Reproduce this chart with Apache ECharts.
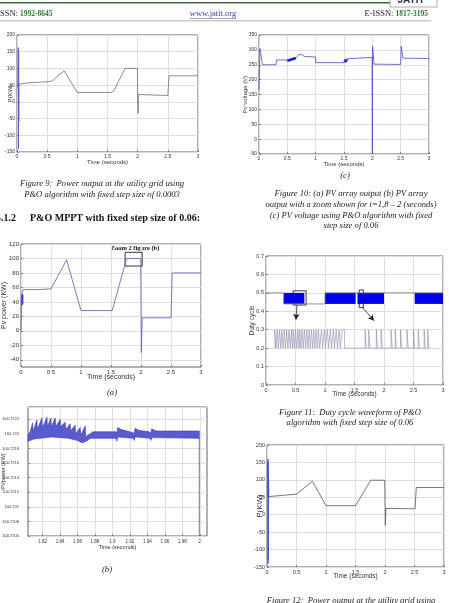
<!DOCTYPE html>
<html>
<head>
<meta charset="utf-8">
<title>ECharts</title>
<script src="https://cdn.jsdelivr.net/npm/echarts@6/dist/echarts.min.js"></script>
<style>html,body{margin:0;padding:0;background:#fff}#main{width:449px;height:603px}</style>
</head>
<body>
<div id="main"></div>
<script>
// tick values (custom ones only where min is not a multiple of the step)
var ticksA = [-40, -20, 0, 20, 40, 60, 80, 100, 120];
var ticksBx = [1.82, 1.84, 1.86, 1.88, 1.9, 1.92, 1.94, 1.96, 1.98, 2];

// Figure 9 : grid power, step 0.0003
var fig9Line = [[0.03,53],[0.06,56],[0.2,57],[0.5,60],[0.58,62],[0.78,93],[1.0,28],[1.55,28],[1.6,31],[1.79,100],[1.995,100],[2.005,-35],[2.015,22],[2.04,19],[2.5,19],[2.52,78],[3,78]];
var fig9Spike = [[0.018,40],[0.021,162],[0.024,-140],[0.027,150],[0.029,-60],[0.031,53]];

// Figure 10 (c) : PV voltage
var fig10Line = [[0,165],[0.015,305],[0.03,290],[0.06,250],[0.3,250],[0.31,266],[0.5,266],[0.66,274],[0.7,284],[0.76,284],[0.8,278],[0.82,276],[1.0,276],[1.0,257],[1.5,257],[1.56,270],[1.995,275],[2.0,-50],[2.004,312],[2.03,252],[2.5,251],[2.51,312],[2.54,272],[3,271]];
var fig10Thick = [[0.5,263],[0.65,273]];
var fig10Ripple = [[1.5,258],[1.51,268],[1.52,258],[1.53,268],[1.54,258],[1.55,270],[1.56,262]];

// Figure 10 (a) : PV power
var figALine = [[0,0],[0.01,0],[0.012,50],[0.036,57],[0.3,57],[0.5,58],[0.76,98],[1.0,28],[1.52,28],[1.76,100],[1.995,100],[2.005,-30],[2.02,18],[2.5,18],[2.52,80],[3,80]];
var figASpike = [[0.014,48],[0.017,36],[0.020,50],[0.023,36],[0.026,50],[0.029,37],[0.033,50]];
var figABox = [[1.735,108.5],[2.02,89.5]];

// Figure 10 (b) : zoom, upper / lower edge of the ripple band
var figBUpper = [[1.8033,100.72198],[1.806,100.72204],[1.8086,100.72215],[1.809,100.72203],[1.8135,100.72219],[1.814,100.72206],[1.8192,100.72222],[1.8197,100.72208],[1.825,100.72223],[1.8255,100.7221],[1.8295,100.72222],[1.83,100.7221],[1.8345,100.72222],[1.835,100.7221],[1.8402,100.7222],[1.8407,100.7221],[1.8459,100.72216],[1.8464,100.72206],[1.8516,100.72214],[1.8521,100.72204],[1.8573,100.72212],[1.8578,100.722],[1.8631,100.72209],[1.8636,100.72198],[1.8688,100.72211],[1.8693,100.72196],[1.874,100.722],[1.878,100.72203],[1.904,100.72203],[1.905,100.72201],[1.906,100.72209],[1.91,100.72206],[1.92,100.72203],[1.925,100.72201],[1.926,100.72208],[1.93,100.72205],[1.942,100.72203],[1.944,100.72201],[1.945,100.72207],[1.95,100.72204],[1.9995,100.72204]];
var figBLower = [[1.8033,100.7219],[1.81,100.72193],[1.83,100.72196],[1.85,100.72194],[1.86,100.72191],[1.865,100.72188],[1.87,100.7219],[1.875,100.72194],[1.904,100.72194],[1.905,100.7219],[1.906,100.72196],[1.924,100.72194],[1.925,100.72191],[1.926,100.72196],[1.943,100.72194],[1.944,100.72191],[1.945,100.72195],[1.9995,100.72194]];
var figBDrop = [[1.9995,100.72195],[1.9995,100.7206]];

// Figure 11 : duty cycle
var fig11Line = [[0,0.5],[0.3,0.5],[0.3,0.44],[0.65,0.44],[1.0,0.44],[1.0,0.5],[3,0.5]];
var fig11Bands = [[0.3,0.65,0.44,0.5],[1.0,1.52,0.44,0.5],[1.55,2.0,0.44,0.5],[2.52,3.0,0.44,0.5]];
var fig11Pulses = [[0.15,0.17],[0.19,0.21],[0.23,0.25],[0.27,0.29],[0.31,0.33],[0.35,0.37],[0.39,0.41],[0.43,0.45],[0.46,0.48],[0.5,0.52],[0.54,0.56],[0.57,0.59],[0.61,0.63],[0.65,0.67],[0.69,0.71],[0.73,0.75],[0.77,0.79],[0.81,0.83],[0.85,0.87],[0.89,0.91],[0.94,0.96],[0.99,1.01],[1.04,1.06],[1.09,1.11],[1.14,1.16],[1.19,1.21],[1.24,1.26],[1.29,1.33],
  [1.68,1.7],[1.74,1.76],[1.87,1.89],[1.95,1.97],[2.12,2.14],[2.19,2.21],[2.28,2.3],[2.39,2.41],[2.5,2.52],[2.58,2.6],[2.68,2.7],[2.74,2.76]];
var fig11Boxes = [[[0.46,0.511],[0.68,0.434]],[[1.58,0.516],[1.65,0.42]]];
var fig11Arrows = [[[0.525,0.435],[0.508,0.354]],[[1.627,0.424],[1.83,0.349]]];

// Figure 12 : grid power, step 0.06
var fig12Line = [[0.03,52],[0.06,56],[0.5,59],[0.77,96],[1.0,26],[1.5,26],[1.76,99],[1.995,99],[2.005,-30],[2.015,18],[2.03,17],[2.51,17],[2.53,78],[3,78]];
var fig12Spike = [[0.012,50],[0.015,160],[0.018,-140],[0.021,150],[0.024,-130],[0.027,100],[0.03,52]];

var myChart = echarts.init(document.getElementById('main'));

function grid(l, t, w, h) {
    return {left: l, top: t, width: w, height: h, show: true, borderColor: '#3a3a3a', borderWidth: 0.8,
        containLabel: false, outerBoundsMode: 'none'};
}
// o: {min, max, interval | ticks, fs, name, gap, margin, fmt, nameFs}
function axis(i, o) {
    var a = {
        gridIndex: i, type: 'value', min: o.min, max: o.max,
        name: o.name, nameLocation: 'middle', nameGap: o.gap, nameMoveOverlap: false,
        nameTextStyle: {fontSize: o.nameFs || o.fs + 1, color: '#333', fontFamily: 'Liberation Sans'},
        axisLine: {show: false, onZero: false},
        axisTick: {show: true, inside: true, length: 2, lineStyle: {color: '#3a3a3a', width: 0.6}},
        axisLabel: {fontSize: o.fs, color: '#333', margin: o.margin || 2, fontFamily: 'Liberation Sans',
            formatter: o.fmt, showMinLabel: true, showMaxLabel: o.noMax ? false : true, hideOverlap: false},
        splitLine: {show: true, lineStyle: {color: '#dedede', width: 1}}
    };
    if (o.ticks) {
        a.axisTick.customValues = o.ticks;
        a.axisLabel.customValues = o.ticks;
    } else {
        a.interval = o.interval;
    }
    return a;
}
function line(i, data, color, w) {
    return {type: 'line', xAxisIndex: i, yAxisIndex: i, data: data, showSymbol: false, symbol: 'none',
        lineStyle: {color: color, width: w || 0.8}, silent: true};
}
function txt(x, y, s, font, color, align) {
    return {type: 'text', x: x, y: y, style: {text: s, font: font, fill: color || '#222', align: align || 'center', verticalAlign: 'middle'}};
}
var capFont = 'italic 8.6px "Liberation Serif"';
var T = 'Time (seconds)';

var option = {
    animation: false,
    grid: [grid(17, 35, 181, 117), grid(259, 35, 170, 119), grid(21, 244, 180, 123),
           grid(28, 407, 179, 129), grid(266, 256, 177, 129), grid(267, 445, 177, 122)],
    xAxis: [
        axis(0, {min: 0, max: 3, interval: 0.5, fs: 5, name: T, gap: 7}),
        axis(1, {min: 0, max: 3, interval: 0.5, fs: 5, name: T, gap: 7}),
        axis(2, {min: 0, max: 3, interval: 0.5, fs: 6, name: T, gap: 7}),
        axis(3, {min: 1.8033, max: 2.0083, ticks: ticksBx, fs: 4.5, name: T, gap: 8, margin: 3}),
        axis(4, {min: 0, max: 3, interval: 0.5, fs: 5.5, name: T, gap: 6}),
        axis(5, {min: 0, max: 3, interval: 0.5, fs: 5.5, name: T, gap: 6})
    ],
    yAxis: [
        axis(0, {min: -150, max: 200, interval: 50, fs: 5, name: 'P(KW)', gap: 4}),
        axis(1, {min: -50, max: 350, interval: 50, fs: 5, name: 'Pv voltage (V)', gap: 11}),
        axis(2, {min: -50, max: 120, ticks: ticksA, fs: 6, name: 'Pv power (KW)', gap: 13}),
        axis(3, {min: 100.7206, max: 100.72237, interval: 0.0002, fs: 4, name: 'PVpower (KW)', gap: 22, margin: 9, nameFs: 5.5, noMax: true,
            fmt: function (v) { return String(+v.toFixed(4)); }}),
        axis(4, {min: 0, max: 0.7, interval: 0.1, fs: 5.5, name: 'Duty cycle', gap: 10}),
        axis(5, {min: -150, max: 200, interval: 50, fs: 5.5, name: 'P(KW)', gap: 3, nameFs: 8})
    ],
    series: [
        line(0, fig9Line, '#6e6e88'),
        line(0, fig9Spike, '#5a5acc', 1),
        line(1, fig10Line, '#4c4cc0'),
        line(1, fig10Thick, '#1a1ad0', 2.6),
        line(1, fig10Ripple, '#3030d0', 1),
        line(2, figALine, '#5a5ab0'),
        line(2, figASpike, '#4040d0', 1),
        {type: 'line', xAxisIndex: 2, yAxisIndex: 2, data: [], markArea: {silent: true,
            itemStyle: {color: 'rgba(0,0,0,0)', borderColor: '#222', borderWidth: 0.9},
            data: [[{coord: figABox[0]}, {coord: figABox[1]}]]}},
        {type: 'custom', xAxisIndex: 3, yAxisIndex: 3, data: [[1.9, 100.722]], silent: true,
            renderItem: function (params, api) {
                var pts = figBUpper.map(function (p) { return api.coord(p); })
                    .concat(figBLower.slice().reverse().map(function (p) { return api.coord(p); }));
                return {type: 'polygon', shape: {points: pts}, style: {fill: '#5a5ad2', stroke: '#3a3aa8', lineWidth: 0.6}};
            }},
        line(3, figBDrop, '#555566'),
        line(4, fig11Line, '#777777'),
        {type: 'custom', xAxisIndex: 4, yAxisIndex: 4, data: fig11Bands, silent: true,
            renderItem: function (params, api) {
                var a = api.coord([api.value(0), api.value(3)]);
                var b = api.coord([api.value(1), api.value(2)]);
                return {type: 'rect', shape: {x: a[0], y: a[1], width: b[0] - a[0], height: b[1] - a[1]}, style: {fill: '#0000e6'}};
            }},
        line(4, (function () {
            var pts = [[0.15, 0.2]];
            fig11Pulses.forEach(function (p) {
                pts.push([p[0], 0.2], [p[0], 0.3], [p[1], 0.3], [p[1], 0.2]);
            });
            pts.push([2.78, 0.2]);
            return pts;
        })(), '#8a8aae', 0.6),
        {type: 'line', xAxisIndex: 4, yAxisIndex: 4, data: [],
            markArea: {silent: true, itemStyle: {color: 'rgba(0,0,0,0)', borderColor: '#222', borderWidth: 0.9},
                data: fig11Boxes.map(function (b) { return [{coord: b[0]}, {coord: b[1]}]; })},
            markLine: {silent: true, symbol: ['none', 'arrow'], symbolSize: [5, 6], label: {show: false},
                lineStyle: {color: '#222', width: 0.8, type: 'solid'},
                data: fig11Arrows.map(function (a) { return [{coord: a[0]}, {coord: a[1]}]; })}},
        line(5, fig12Line, '#555566'),
        line(5, fig12Spike, '#5050c8', 1)
    ],
    graphic: [
        {type: 'rect', shape: {x: 0, y: 2, width: 432, height: 1.5}, style: {fill: '#3c6b3c'}},
        {type: 'rect', shape: {x: 390, y: -3, width: 47, height: 10}, style: {fill: '#fff', stroke: '#9a9a9a', lineWidth: 0.8}},
        txt(411, 0, 'JATIT', 'bold 10px "Liberation Sans"', '#333'),
        {type: 'text', x: 0, y: 14, style: {text: '{a|SSN: }{b|1992-8645}', verticalAlign: 'middle',
            rich: {a: {font: '8.5px "Liberation Serif"', fill: '#222'}, b: {font: 'bold 7.5px "Liberation Serif"', fill: '#2a7a2a'}}}},
        txt(213, 14, 'www.jatit.org', '8.5px "Liberation Serif"', '#3344aa'),
        {type: 'rect', shape: {x: 190, y: 18, width: 46, height: 0.6}, style: {fill: '#3344aa'}},
        {type: 'text', x: 428, y: 14, style: {text: '{a|E-ISSN: }{b|1817-3195}', align: 'right', verticalAlign: 'middle',
            rich: {a: {font: '8.5px "Liberation Serif"', fill: '#222'}, b: {font: 'bold 7.5px "Liberation Serif"', fill: '#2a7a2a'}}}},
        {type: 'rect', shape: {x: 0, y: 20.5, width: 431, height: 0.8}, style: {fill: '#8a9a8a'}},

        txt(102, 184, 'Figure 9:  Power output at the utility grid using', capFont),
        txt(102, 195, 'P&O algorithm with fixed step size of 0.0003', capFont),
        txt(-4, 218, '5.1.2', 'bold 10px "Liberation Serif"', '#111', 'left'),
        txt(30, 218, 'P&O MPPT with fixed step size of 0.06:', 'bold 10px "Liberation Serif"', '#111', 'left'),
        txt(135, 248, 'Zoom 2 figure (b)', 'bold 6.5px "Liberation Serif"', '#111'),
        txt(112, 393, '(a)', capFont),
        txt(107, 570, '(b)', capFont),
        txt(345, 176, '(c)', capFont),
        txt(351, 194, 'Figure 10: (a) PV array output (b) PV array', capFont),
        txt(351, 205, 'output with a zoom shown for t=1,8 \u2013 2 (seconds)', capFont),
        txt(351, 215.5, '(c) PV voltage using P&O algorithm with fixed', capFont),
        txt(351, 225.5, 'step size of 0.06', capFont),
        txt(350, 413, 'Figure 11:  Duty cycle waveform of P&O', capFont),
        txt(350, 423, 'algorithm with fixed step size of 0.06', capFont),
        txt(351, 601, 'Figure 12:  Power output at the utility grid using', capFont)
    ]
};
myChart.setOption(option);
</script>
</body>
</html>
